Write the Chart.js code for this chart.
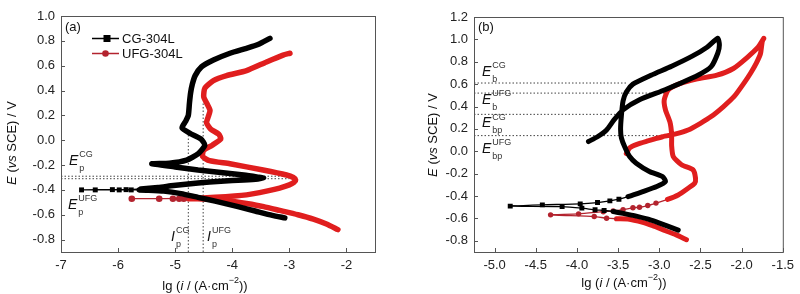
<!DOCTYPE html>
<html>
<head>
<meta charset="utf-8">
<script src="https://cdn.jsdelivr.net/npm/chart.js@4.4.1/dist/chart.umd.min.js"></script>
<style>
  body { margin: 0; background: #fff; }
  #wrap { position: relative; width: 800px; height: 294px; }
  canvas { position: absolute; top: 0; }
</style>
</head>
<body>
<div id="wrap">
  <canvas id="chartA" width="400" height="294" style="left:0"></canvas>
  <canvas id="chartB" width="400" height="294" style="left:400px"></canvas>
</div>
<script>
const FONT = "'Liberation Sans', Arial, sans-serif"

// ---- (a) potentiodynamic polarization ----
const aXTicks = [-7, -6, -5, -4, -3, -2]
const aYTicks = [-0.8, -0.6, -0.4, -0.2, 0.0, 0.2, 0.4, 0.6, 0.8, 1.0]

// CG-304L, cathodic branch -> near Ecorr -> anodic branch
const aCgCathX = [-3.08, -3.3, -3.6, -3.9, -4.3, -4.6, -4.9, -5.2, -5.5, -5.63]
const aCgCathY = [-0.625, -0.605, -0.57, -0.535, -0.49, -0.46, -0.43, -0.41, -0.402, -0.400]
const aCgEcorrX = [-5.77, -5.98, -6.40, -6.64, -6.10, -5.86]
const aCgEcorrY = [-0.400, -0.400, -0.400, -0.400, -0.398, -0.398]
const aCgAnodX = [-5.6, -5.3, -5.03, -4.6, -4.2, -3.8, -3.55, -3.45, -3.55, -3.8, -4.2, -4.6, -5.0, -5.41, -5.1, -4.8, -4.6, -4.48, -4.55, -4.72, -4.88, -4.82, -4.77, -4.75, -4.73, -4.70, -4.65, -4.54, -4.33, -4.04, -3.75, -3.55, -3.34]
const aCgAnodY = [-0.392, -0.38, -0.365, -0.345, -0.33, -0.32, -0.312, -0.305, -0.297, -0.28, -0.26, -0.24, -0.215, -0.19, -0.185, -0.16, -0.11, -0.04, 0.01, 0.05, 0.10, 0.15, 0.20, 0.30, 0.38, 0.45, 0.52, 0.59, 0.645, 0.70, 0.74, 0.77, 0.82]

// UFG-304L
const aUfgCathX = [-2.15, -2.35, -2.58, -2.85, -3.17, -3.45, -3.75, -4.04, -4.35, -4.6, -4.77]
const aUfgCathY = [-0.72, -0.675, -0.635, -0.60, -0.565, -0.535, -0.51, -0.49, -0.477, -0.472, -0.471]
const aUfgEcorrX = [-4.85, -4.93, -5.04, -5.28, -5.76]
const aUfgEcorrY = [-0.471, -0.471, -0.471, -0.471, -0.471]
const aUfgAnodX = [-4.7, -4.3, -3.75, -3.4, -3.17, -3.0, -2.92, -2.89, -2.93, -3.05, -3.46, -4.04, -4.4, -4.52, -4.5, -4.35, -4.2, -4.24, -4.38, -4.45, -4.42, -4.39, -4.45, -4.5, -4.48, -4.33, -4.1, -3.75, -3.40, -3.11, -2.99]
const aUfgAnodY = [-0.468, -0.46, -0.44, -0.41, -0.385, -0.36, -0.34, -0.32, -0.30, -0.28, -0.24, -0.19, -0.165, -0.13, -0.08, -0.04, 0.01, 0.05, 0.09, 0.14, 0.19, 0.24, 0.30, 0.35, 0.42, 0.48, 0.52, 0.56, 0.63, 0.685, 0.70]

// marked potentials / currents in (a)
const aEpCG = -0.29, aEpUFG = -0.31
const aIpCG = -4.77, aIpUFG = -4.51

// ---- (b) cyclic polarization ----
const bXTicks = [-5.0, -4.5, -4.0, -3.5, -3.0, -2.5, -2.0, -1.5]
const bYTicks = [-0.8, -0.6, -0.4, -0.2, 0.0, 0.2, 0.4, 0.6, 0.8, 1.0, 1.2]

const bCgCathX = [-2.77, -2.93, -3.1, -3.28, -3.44, -3.56]
const bCgCathY = [-0.705, -0.66, -0.615, -0.58, -0.555, -0.538]
const bCgEcorrX = [-3.67, -3.78, -3.94, -4.18, -4.81, -4.42, -3.96, -3.75, -3.60, -3.49]
const bCgEcorrY = [-0.529, -0.523, -0.508, -0.494, -0.49, -0.479, -0.47, -0.458, -0.443, -0.428]
const bCgFwdX = [-3.38, -3.2, -3.03, -2.925, -2.96, -3.12, -3.28, -3.36, -3.42, -3.46, -3.47, -3.46, -3.44, -3.40, -3.32, -3.1, -2.85, -2.6, -2.42, -2.29]
const bCgFwdY = [-0.405, -0.36, -0.315, -0.27, -0.226, -0.18, -0.106, -0.047, 0.04, 0.12, 0.20, 0.32, 0.45, 0.53, 0.60, 0.68, 0.76, 0.85, 0.93, 1.01]
const bCgRevX = [-2.27, -2.29, -2.37, -2.53, -2.93, -3.24, -3.44, -3.55, -3.64, -3.75, -3.86]
const bCgRevY = [0.95, 0.876, 0.756, 0.68, 0.55, 0.46, 0.37, 0.28, 0.19, 0.13, 0.087]

const bUfgCathX = [-2.67, -2.8, -2.925, -3.08, -3.2, -3.38, -3.52]
const bUfgCathY = [-0.79, -0.745, -0.71, -0.665, -0.635, -0.605, -0.603]
const bUfgEcorrX = [-3.64, -3.79, -4.32, -3.98, -3.68, -3.56, -3.44, -3.32, -3.24, -3.14, -3.04]
const bUfgEcorrY = [-0.598, -0.583, -0.568, -0.559, -0.54, -0.534, -0.522, -0.505, -0.50, -0.485, -0.463]
const bUfgFwdX = [-2.9, -2.77, -2.65, -2.57, -2.56, -2.59, -2.73, -2.83, -2.85, -2.85, -2.87, -2.925, -2.94, -2.89, -2.75, -2.55, -2.3, -2.1, -1.93, -1.8, -1.73]
const bUfgFwdY = [-0.43, -0.39, -0.33, -0.285, -0.24, -0.166, -0.12, -0.047, 0.05, 0.15, 0.26, 0.37, 0.46, 0.55, 0.605, 0.645, 0.68, 0.74, 0.84, 0.93, 1.01]
const bUfgRevX = [-1.75, -1.77, -1.82, -1.89, -1.98, -2.09, -2.22, -2.37, -2.5, -2.65, -2.8, -2.96, -3.15, -3.28, -3.36, -3.40]
const bUfgRevY = [0.98, 0.876, 0.79, 0.70, 0.60, 0.49, 0.40, 0.31, 0.25, 0.19, 0.155, 0.13, 0.09, 0.06, 0.03, -0.02]

// marked breakdown / protection potentials in (b) and where each dotted line stops
const bEbCG = 0.61, bEbUFG = 0.52, bEbpCG = 0.33, bEbpUFG = 0.14
const bEbCGTo = -3.40, bEbUFGTo = -2.92, bEbpCGTo = -3.46, bEbpUFGTo = -2.85

const BLACK = '#000000'
const RED = '#e01e1e'
const DARKRED = '#b3232e'

function series(parts) {
  const data = [], mark = []
  parts.forEach(([xs, ys, m]) => xs.forEach((x, i) => {
    data.push({ x: x, y: ys[i] })
    mark.push(m)
  }))
  return { data, mark }
}

function curve(s, color, markColor, style, r, thick) {
  const thin = c => s.mark[c.p0DataIndex] || s.mark[c.p1DataIndex]
  return {
    data: s.data,
    showLine: true,
    borderColor: color,
    borderWidth: thick,
    tension: 0.2,
    borderCapStyle: 'round',
    borderJoinStyle: 'round',
    pointStyle: style,
    pointRadius: s.mark.map(m => m ? r : 0),
    pointHoverRadius: 0,
    pointBorderWidth: 0,
    pointBackgroundColor: markColor,
    pointBorderColor: markColor,
    segment: {
      borderWidth: c => thin(c) ? 1.3 : thick,
      borderColor: c => thin(c) ? markColor : color
    }
  }
}

function fmt1(v) {
  return Math.abs(v) < 1e-9 ? '0.0' : v.toFixed(1)
}

function runs(ctx, parts, cx, cy) {
  let total = 0
  parts.forEach(p => { ctx.font = p[1]; total += ctx.measureText(p[0]).width })
  let x = cx - total / 2
  parts.forEach(p => {
    ctx.font = p[1]
    ctx.fillText(p[0], x, cy + (p[2] || 0))
    x += ctx.measureText(p[0]).width
  })
}

function sym(ctx, x, y, main, sup, sub) {
  ctx.font = 'italic 14px ' + FONT
  ctx.fillStyle = '#111'
  ctx.fillText(main, x, y)
  const w = ctx.measureText(main).width
  ctx.font = '9px ' + FONT
  ctx.fillStyle = '#333'
  ctx.fillText(sup, x + w + 1, y - 6)
  ctx.fillText(sub, x + w + 1, y + 7.5)
}

function dotted(ctx, x0, y0, x1, y1) {
  ctx.beginPath()
  ctx.moveTo(x0, y0)
  ctx.lineTo(x1, y1)
  ctx.stroke()
}

const XTITLE = [
  ['lg (', '13px ' + FONT], ['i', 'italic 13px ' + FONT], [' / (A\u00b7cm', '13px ' + FONT],
  ['\u22122', '9px ' + FONT, -5], ['))', '13px ' + FONT]
]
const YTITLE = [
  ['E', 'italic 13px ' + FONT], [' (', '13px ' + FONT], ['vs', 'italic 13px ' + FONT], [' SCE) / V', '13px ' + FONT]
]

function framePlugin(opts) {
  return {
    id: 'frame',
    beforeDatasetsDraw(chart) {
      const { ctx, scales: { x, y } } = chart
      ctx.save()
      ctx.strokeStyle = '#444'
      ctx.lineWidth = 1
      ctx.setLineDash([1.5, 2])
      opts.lines(x, y).forEach(l => dotted(ctx, l[0], l[1], l[2], l[3]))
      ctx.restore()
    },
    afterDraw(chart) {
      const { ctx, chartArea: a, scales: { x, y } } = chart
      ctx.save()
      ctx.strokeStyle = '#555'
      ctx.lineWidth = 1
      ctx.strokeRect(a.left + 0.5, a.top + 0.5, a.right - a.left, a.bottom - a.top)
      x.ticks.forEach(t => {
        const p = Math.round(x.getPixelForValue(t.value)) + 0.5
        dotted(ctx, p, a.bottom, p, a.bottom - 4)
      })
      y.ticks.forEach(t => {
        const p = Math.round(y.getPixelForValue(t.value)) + 0.5
        dotted(ctx, a.left, p, a.left + 4, p)
      })
      ctx.textBaseline = 'middle'
      ctx.textAlign = 'left'
      ctx.fillStyle = '#111'
      ctx.font = '13px ' + FONT
      ctx.fillText(opts.tag, a.left + 4, 27)
      runs(ctx, XTITLE, opts.xTitleX, opts.xTitleY)
      ctx.save()
      ctx.translate(opts.yTitleX, opts.yTitleY)
      ctx.rotate(-Math.PI / 2)
      runs(ctx, YTITLE, 0, 0)
      ctx.restore()
      opts.labels(ctx)
      ctx.restore()
    }
  }
}

function makeChart(id, datasets, xr, yr, xTicks, yTicks, xFmt, yAxisW, pad, opts) {
  return new Chart(document.getElementById(id), {
    type: 'scatter',
    data: { datasets },
    options: {
      responsive: false,
      animation: false,
      events: [],
      layout: { padding: pad },
      plugins: { legend: { display: false }, tooltip: { enabled: false } },
      scales: {
        x: {
          type: 'linear', min: xr[0], max: xr[1],
          afterBuildTicks: s => { s.ticks = xTicks.map(v => ({ value: v })) },
          afterFit: s => { s.height = 42 },
          grid: { display: false, drawTicks: false },
          border: { display: false },
          ticks: { padding: 6, color: '#222', font: { family: FONT, size: 13 }, callback: xFmt, maxRotation: 0, autoSkip: false }
        },
        y: {
          type: 'linear', min: yr[0], max: yr[1],
          afterBuildTicks: s => { s.ticks = yTicks.map(v => ({ value: v })) },
          afterFit: s => { s.width = yAxisW },
          grid: { display: false, drawTicks: false },
          border: { display: false },
          ticks: { padding: 6, color: '#222', font: { family: FONT, size: 13 }, callback: fmt1, autoSkip: false }
        }
      }
    },
    plugins: [framePlugin(opts)]
  })
}

// ---- chart (a) ----
const aCg = series([[aCgCathX, aCgCathY, false], [aCgEcorrX, aCgEcorrY, true], [aCgAnodX, aCgAnodY, false]])
const aUfg = series([[aUfgCathX, aUfgCathY, false], [aUfgEcorrX, aUfgEcorrY, true], [aUfgAnodX, aUfgAnodY, false]])

makeChart('chartA',
  [curve(aCg, BLACK, BLACK, 'rect', 3.5, 5.5), curve(aUfg, RED, DARKRED, 'circle', 3.3, 5.5)],
  [-7, -1.5], [-0.9, 1.0], aXTicks, aYTicks, v => v.toFixed(0), 61,
  { left: 0, right: 25, top: 16, bottom: 0 },
  {
    tag: '(a)', xTitleX: 205, xTitleY: 286, yTitleX: 12, yTitleY: 143,
    lines: (x, y) => {
      const l = x.getPixelForValue(-7), r = x.getPixelForValue(-3.0), b = y.getPixelForValue(-0.9)
      return [
        [l, y.getPixelForValue(aEpCG), r, y.getPixelForValue(aEpCG)],
        [l, y.getPixelForValue(aEpUFG), r, y.getPixelForValue(aEpUFG)],
        [x.getPixelForValue(aIpCG), b, x.getPixelForValue(aIpCG), y.getPixelForValue(0.08)],
        [x.getPixelForValue(aIpUFG), b, x.getPixelForValue(aIpUFG), y.getPixelForValue(0.30)]
      ]
    },
    labels: ctx => {
      sym(ctx, 69, 161, 'E', 'CG', 'p')
      sym(ctx, 68, 205, 'E', 'UFG', 'p')
      sym(ctx, 171, 237, 'I', 'CG', 'p')
      sym(ctx, 207, 237, 'I', 'UFG', 'p')
      // legend
      ctx.lineWidth = 1.5
      ctx.setLineDash([])
      ctx.strokeStyle = BLACK
      dotted(ctx, 92, 38.5, 119, 38.5)
      ctx.fillStyle = BLACK
      ctx.fillRect(103.5, 35, 7, 7)
      ctx.strokeStyle = DARKRED
      dotted(ctx, 92, 53.5, 119, 53.5)
      ctx.fillStyle = DARKRED
      ctx.beginPath()
      ctx.arc(105.5, 53.5, 3.3, 0, Math.PI * 2)
      ctx.fill()
      ctx.fillStyle = '#111'
      ctx.font = '13px ' + FONT
      ctx.fillText('CG-304L', 122, 39)
      ctx.fillText('UFG-304L', 122, 54)
    }
  })

// ---- chart (b) ----
const bCg = series([[bCgCathX, bCgCathY, false], [bCgEcorrX, bCgEcorrY, true], [bCgFwdX, bCgFwdY, false], [bCgRevX, bCgRevY, false]])
const bUfg = series([[bUfgCathX, bUfgCathY, false], [bUfgEcorrX, bUfgEcorrY, true], [bUfgFwdX, bUfgFwdY, false], [bUfgRevX, bUfgRevY, false]])

makeChart('chartB',
  [curve(bCg, BLACK, BLACK, 'rect', 3.5, 5), curve(bUfg, RED, DARKRED, 'circle', 2.7, 5)],
  [-5.25, -1.5], [-0.9, 1.2], bXTicks, bYTicks, fmt1, 74,
  { left: 0, right: 10, top: 17, bottom: 0 },
  {
    tag: '(b)', xTitleX: 224, xTitleY: 283, yTitleX: 33, yTitleY: 135,
    lines: (x, y) => {
      const l = x.getPixelForValue(-5.25)
      return [
        [l, y.getPixelForValue(bEbCG), x.getPixelForValue(bEbCGTo), y.getPixelForValue(bEbCG)],
        [l, y.getPixelForValue(bEbUFG), x.getPixelForValue(bEbUFGTo), y.getPixelForValue(bEbUFG)],
        [l, y.getPixelForValue(bEbpCG), x.getPixelForValue(bEbpCGTo), y.getPixelForValue(bEbpCG)],
        [l, y.getPixelForValue(bEbpUFG), x.getPixelForValue(bEbpUFGTo), y.getPixelForValue(bEbpUFG)]
      ]
    },
    labels: ctx => {
      sym(ctx, 82, 72, 'E', 'CG', 'b')
      sym(ctx, 82, 100, 'E', 'UFG', 'b')
      sym(ctx, 82, 123.5, 'E', 'CG', 'bp')
      sym(ctx, 82, 149, 'E', 'UFG', 'bp')
    }
  })
</script>
</body>
</html>
